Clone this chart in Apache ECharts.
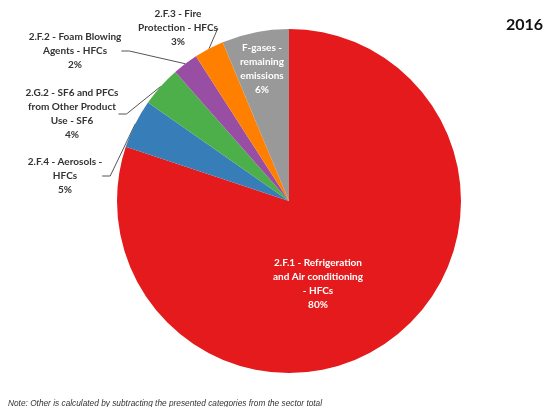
<!DOCTYPE html>
<html><head><meta charset="utf-8">
<script src="https://cdn.jsdelivr.net/npm/echarts@6/dist/echarts.min.js"></script>
<style>html,body{margin:0;padding:0;background:#fff}#c{width:557px;height:407px}</style>
</head><body><div id="c"></div>
<script>
const categories = [
  "2.F.1 - Refrigeration\nand Air conditioning\n- HFCs",
  "2.F.4 - Aerosols -\nHFCs",
  "2.G.2 - SF6 and PFCs\nfrom Other Product\nUse - SF6",
  "2.F.2 - Foam Blowing\nAgents - HFCs",
  "2.F.3 - Fire\nProtection - HFCs",
  "F-gases -\nremaining\nemissions"
];
const values = [80.1, 4.6, 3.8, 2.4, 2.8, 6.3];
const colors = ["#E41A1C", "#377EB8", "#4DAF4A", "#984EA3", "#FF7F00", "#999999"];
const insideLabel = [true, false, false, false, false, true];
const labelPos = [[318, 284], [65, 176], [72, 114], [75, 51], [178, 28], [262, 69]];

const chart = echarts.init(document.getElementById('c'));
chart.setOption({
  animation: false,
  title: [{
    text: '2016', right: 9, top: 12,
    textStyle: { fontFamily: 'Lato', fontWeight: 'bold', fontSize: 16, color: '#111' }
  }, {
    text: 'Note: Other is calculated by subtracting the presented categories from the sector total',
    left: 3, top: 395,
    textStyle: { fontFamily: 'Liberation Sans', fontStyle: 'italic', fontWeight: 'normal', fontSize: 8.3, color: '#333' }
  }],
  series: [{
    type: 'pie',
    center: [289, 201],
    radius: 172,
    startAngle: 90,
    clockwise: true,
    avoidLabelOverlap: false,
    data: categories.map((n, i) => ({
      name: n, value: values[i],
      itemStyle: { color: colors[i] },
      label: insideLabel[i] ? { position: 'inside', color: '#fff' } : { position: 'outside', color: '#333' },
      labelLine: { show: !insideLabel[i] }
    })),
    label: {
      fontFamily: 'Lato', fontWeight: 'bold', fontSize: 10, lineHeight: 14,
      align: 'center',
      formatter: p => p.name + '\n' + Math.round(p.percent) + '%'
    },
    labelLine: { lineStyle: { color: '#555', width: 1 }, length: 8, length2: 8 },
    labelLayout: p => ({ x: labelPos[p.dataIndex][0], y: labelPos[p.dataIndex][1], align: 'center', verticalAlign: 'middle' })
  }]
});
</script></body></html>
